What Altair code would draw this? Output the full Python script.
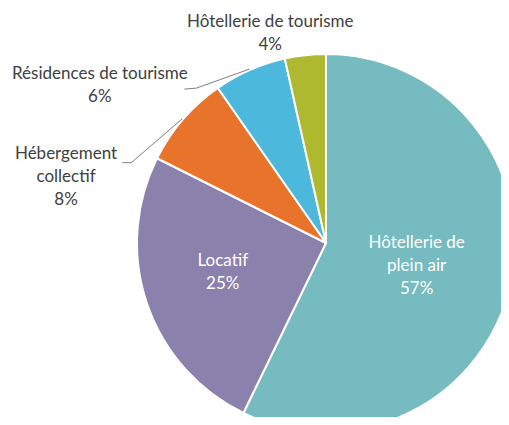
import math
import altair as alt
import numpy as np
import pandas as pd

# ---- data ----
categories = ["Hôtellerie de plein air", "Locatif", "Hébergement collectif",
              "Résidences de tourisme", "Hôtellerie de tourisme"]
values = [57.2, 25.2, 7.9, 6.2, 3.5]
pct_labels = ["57%", "25%", "8%", "6%", "4%"]
label_names = ["Hôtellerie de\nplein air", "Locatif", "Hébergement\ncollectif",
               "Résidences de tourisme", "Hôtellerie de tourisme"]
colors = ["#75BBBF", "#8A81AD", "#E8732B", "#4BB8DC", "#AFB92F"]

# ---- layout (styles) ----
W, H = 493, 409
CX, CY = 318, 235          # pie centre in chart coordinates
R = 189
FONT = "Lato"
FS = 17
LH = 23
TXT = "#404040"

df = pd.DataFrame({
    "cat": categories,
    "value": values,
    "label": [f"{n}\n{p}" for n, p in zip(label_names, pct_labels)],
    "order": list(range(len(categories))),
})

theta_scale = alt.Scale(domain=[0, sum(values)], range=[0, 2 * math.pi])

base = alt.Chart(df).transform_stack(
    stack="value", as_=["v0", "v1"], groupby=[],
    sort=[alt.SortField("order", order="ascending")]
)

arcs = base.mark_arc(radius=R, stroke="white", strokeWidth=2).encode(
    theta=alt.Theta("v0:Q", scale=theta_scale),
    theta2="v1:Q",
    color=alt.Color("cat:N", scale=alt.Scale(domain=categories, range=colors), legend=None),
    x=alt.value(CX),
    y=alt.value(CY),
)


def label_layer(i, radius, color, dx=0, dy=0):
    n_lines = label_names[i].count("\n") + 2
    return base.transform_calculate(mid="(datum.v0 + datum.v1) / 2").transform_filter(
        alt.datum.order == i
    ).mark_text(
        radius=radius, dx=dx, dy=dy - (n_lines - 1) * LH / 2,
        align="center", baseline="middle",
        font=FONT, fontSize=FS, lineHeight=LH, lineBreak="\n", color=color,
    ).encode(
        theta=alt.Theta("mid:Q", scale=theta_scale),
        text="label:N",
        x=alt.value(CX),
        y=alt.value(CY),
    )


labels = [
    label_layer(0, 92, "white", dx=1, dy=2),
    label_layer(1, 109, "white", dx=0, dy=-5),
    label_layer(2, R, TXT, dx=-117, dy=58),
    label_layer(3, R, TXT, dx=-150, dy=15),
    label_layer(4, R, TXT, dx=-35, dy=-22),
]

# leader lines: anchored on the slice edge at mid angle (derived from the data)
cum = np.cumsum(values)
mids = (cum - np.array(values) / 2) / sum(values) * 2 * math.pi
elbows = {2: [(-51, 44), (-60, 44)], 3: [(-53, 19), (-65, 20)]}
rows = []
for i, pts in elbows.items():
    ax = CX + (R + 1) * math.sin(mids[i])
    ay = CY - (R + 1) * math.cos(mids[i])
    rows.append({"cat": categories[i], "pt": 0, "px": ax, "py": ay})
    for k, (ox, oy) in enumerate(pts):
        rows.append({"cat": categories[i], "pt": k + 1, "px": ax + ox, "py": ay + oy})
lines_df = pd.DataFrame(rows)

leaders = alt.Chart(lines_df).mark_line(color="#7F7F7F", strokeWidth=1).encode(
    x=alt.X("px:Q", scale=None),
    y=alt.Y("py:Q", scale=None),
    detail="cat:N",
    order="pt:O",
)

chart = alt.layer(arcs, leaders, *labels).properties(
    width=W, height=H, padding=0,
    autosize=alt.AutoSizeParams(type="none"),
).configure_view(stroke=None)

chart.save("out.html", embed_options={"renderer": "svg", "actions": False})
